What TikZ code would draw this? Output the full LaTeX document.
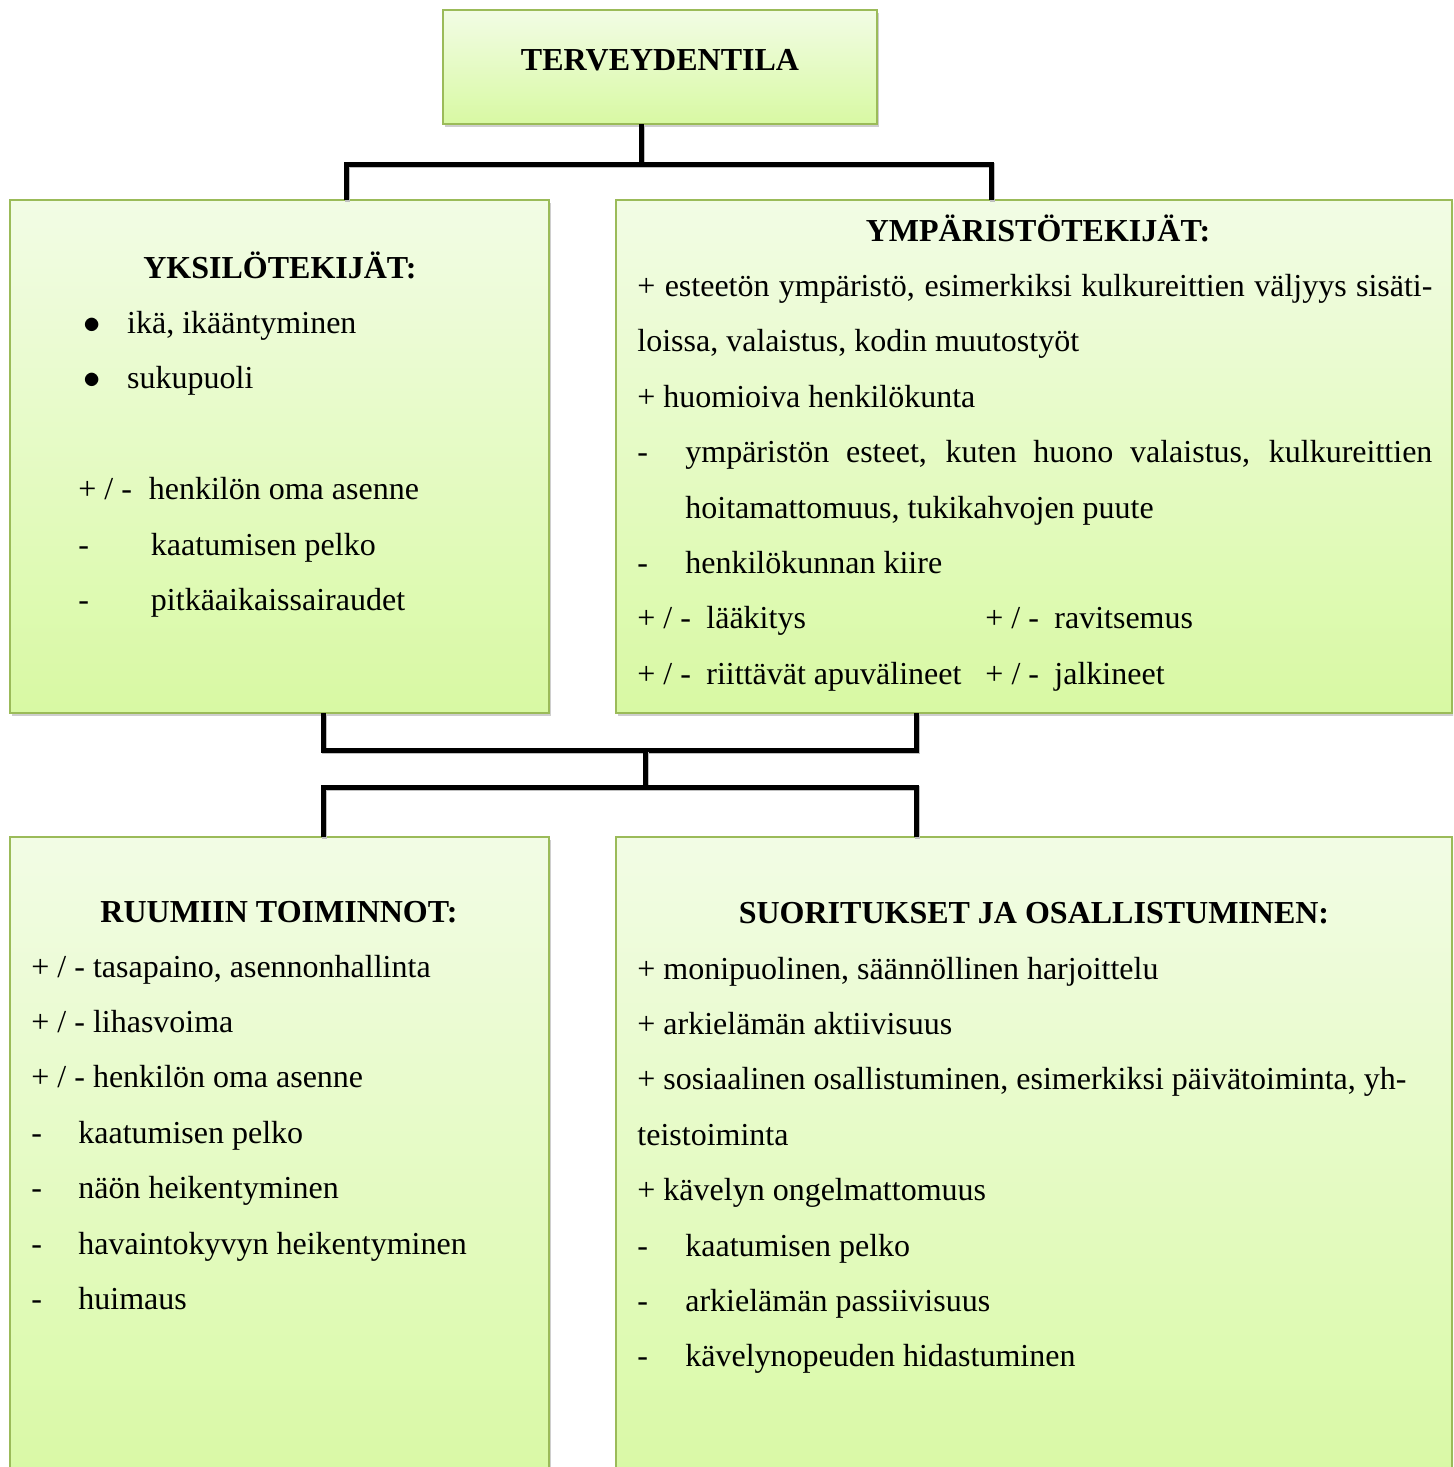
\documentclass[tikz,border=0pt]{standalone}
\usepackage{fontspec}
\setmainfont{Liberation Serif}
\usetikzlibrary{shadows}
\definecolor{boxedge}{RGB}{155,187,89}
\definecolor{boxtop}{RGB}{242,252,229}
\definecolor{boxbottom}{RGB}{216,249,163}
\newcommand{\pmark}[1]{\makebox[#1][l]{+ / -}}
\newcommand{\dmark}[1]{\makebox[#1][l]{-}}
\newcommand{\bmark}{\makebox[24.4pt][l]{\hspace{2.5pt}$\bullet$}}
\newcommand{\normspace}{\spaceskip=0pt\xspaceskip=0pt\relax}

\begin{document}
\begin{tikzpicture}[
      x=0.5pt, y=-0.5pt,
      box/.style={draw=boxedge, line width=0.8pt, top color=boxtop,
                  bottom color=boxbottom, inner sep=0pt, outer sep=0pt,
                  drop shadow={shadow xshift=1.2pt, shadow yshift=-1.4pt,
                               opacity=0.35, fill=black!55}},
      head/.style={font=\fontsize{16pt}{27.7pt}\selectfont\bfseries,
                   inner sep=0pt, anchor=base,
                   execute at begin node=\normspace},
      body/.style={font=\fontsize{16pt}{27.7pt}\selectfont, inner sep=0pt,
                   text width=430pt, anchor=base west,
                   execute at begin node=\normspace},
      link/.style={line width=2.5pt, black,
                   preaction={draw=black!25, line width=2.5pt,
                              transform canvas={shift={(0.7pt,-0.9pt)}}}}
    ]
    \path[use as bounding box] (0,0) rectangle (1453,1467);
    \clip (0,0) rectangle (1453,1467);

    \node[box, minimum width=217pt, minimum height=57pt] (terv) at (660,67) {};
    \node[box, minimum width=269.5pt, minimum height=256.5pt] (yks) at (279.5,456.5) {};
    \node[box, minimum width=418pt, minimum height=256.5pt] (ymp) at (1034,456.5) {};
    \node[box, minimum width=269.5pt, minimum height=331.5pt] (ruu) at (279.5,1168.5) {};
    \node[box, minimum width=418pt, minimum height=331.5pt] (suo) at (1034,1168.5) {};

    \node[head] (terv-h) at (660,70) {TERVEYDENTILA};
    \node[head] (yks-h) at (280,278) {YKSILÖTEKIJÄT:};
    \node[head] (ymp-h) at (1038,241) {YMPÄRISTÖTEKIJÄT:};
    \node[head] (ruu-h) at (279,922) {RUUMIIN TOIMINNOT:};
    \node[head] (suo-h) at (1034,923) {SUORITUKSET JA OSALLISTUMINEN:};

    \node[body] (yks-b) at (78,333.5) {%
      \bmark ikä, ikääntyminen\\
      \bmark sukupuoli\\
      \mbox{}\\
      \pmark{35.2pt}henkilön oma asenne\\
      \dmark{36.3pt}kaatumisen pelko\\
      \dmark{36.3pt}pitkäaikaissairaudet};
    \node[body] (ymp-b) at (637,296.5) {%
      \makebox[397.5pt][s]{+ esteetön ympäristö, esimerkiksi kulkureittien väljyys sisäti-}\\
      loissa, valaistus, kodin muutostyöt\\
      + huomioiva henkilökunta\\
      \dmark{24pt}\makebox[373.5pt][s]{ympäristön esteet, kuten huono valaistus, kulkureittien}\\
      \hspace*{24pt}hoitamattomuus, tukikahvojen puute\\
      \dmark{24pt}henkilökunnan kiire\\
      \pmark{34.5pt}\makebox[139.5pt][l]{lääkitys}\pmark{34.5pt}ravitsemus\\
      \pmark{34.5pt}\makebox[139.5pt][l]{riittävät apuvälineet}\pmark{34.5pt}jalkineet};
    \node[body] (ruu-b) at (31,977) {%
      + / - tasapaino, asennonhallinta\\
      + / - lihasvoima\\
      + / - henkilön oma asenne\\
      \dmark{23.5pt}kaatumisen pelko\\
      \dmark{23.5pt}näön heikentyminen\\
      \dmark{23.5pt}havaintokyvyn heikentyminen\\
      \dmark{23.5pt}huimaus};
    \node[body] (suo-b) at (637,979) {%
      + monipuolinen, säännöllinen harjoittelu\\
      + arkielämän aktiivisuus\\
      + sosiaalinen osallistuminen, esimerkiksi päivätoiminta, yh-\\
      teistoiminta\\
      + kävelyn ongelmattomuus\\
      \dmark{24pt}kaatumisen pelko\\
      \dmark{24pt}arkielämän passiivisuus\\
      \dmark{24pt}kävelynopeuden hidastuminen};

    \coordinate (j0) at (641,164);
    \coordinate (j1) at (346,164);
    \coordinate (j2) at (991,164);
    \coordinate (m0) at (645,750);
    \coordinate (m1) at (323,750);
    \coordinate (m2) at (916,750);
    \coordinate (n0) at (645,787);
    \coordinate (n1) at (323,787);
    \coordinate (n2) at (916,787);

    \draw[link] (terv.south -| j0) -- (j0);
    \draw[link] (yks.north -| j1) -- (j1) -- (j2) -- (ymp.north -| j2);
    \draw[link] (yks.south -| m1) -- (m1) -- (m2) -- (ymp.south -| m2);
    \draw[link] (m0) -- (n0);
    \draw[link] (ruu.north -| n1) -- (n1) -- (n2) -- (suo.north -| n2);
  \end{tikzpicture}
\end{document}
